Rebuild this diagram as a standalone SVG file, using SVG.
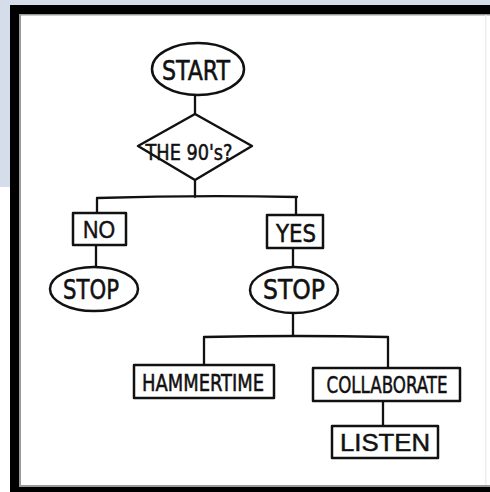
<svg xmlns="http://www.w3.org/2000/svg" width="490" height="492" viewBox="0 0 490 492">
<style>
.shape{fill:#fff;stroke:#111;stroke-width:2.5;stroke-linejoin:round}
.conn{fill:none;stroke:#111;stroke-width:2.3;stroke-linecap:round;stroke-linejoin:round}
.lbl{font-family:"Liberation Sans Narrow","DejaVu Sans Condensed","Liberation Sans",sans-serif;fill:#111;stroke:#111;stroke-width:0.5;text-anchor:middle}
.wide{font-family:"Liberation Sans",Arial,sans-serif}
</style>
<rect x="0" y="0" width="490" height="492" fill="#fff"/>
<rect x="0" y="0" width="490" height="5" fill="#d5dcea"/>
<rect x="0" y="0" width="10" height="187" fill="#d5dcea"/>
<rect x="10" y="5" width="480" height="9" fill="#000"/>
<rect x="10" y="5" width="9" height="487" fill="#000"/>
<rect x="10" y="487" width="480" height="5" fill="#000"/>
<rect x="19" y="14" width="2" height="473" fill="#999"/>
<rect x="19" y="14" width="471" height="1.5" fill="#999"/>
<rect x="19" y="485" width="471" height="2" fill="#999"/>
<rect x="485" y="15" width="1.5" height="470" fill="#eee"/>
<g id="connectors">
<path class="conn" d="M195 95 L195 115"/>
<path class="conn" d="M195 180 L195 197 M97 198 Q196 195 297 197 M97 198 L97 213 M296 197 L296 215"/>
<path class="conn" d="M96 245 L96 267"/>
<path class="conn" d="M293 248 L293 268"/>
<path class="conn" d="M293 313 L293 336 M204 337 Q296 335 388 337 M204 337 L204 365 M388 337 L388 368"/>
<path class="conn" d="M383 401 L383 426"/>
</g>
<g id="start">
<ellipse class="shape" cx="198" cy="69" rx="46" ry="26"/>
<text class="lbl" x="196" y="80" font-size="26" textLength="68" lengthAdjust="spacingAndGlyphs">START</text>
</g>
<g id="the90s">
<polygon class="shape" points="195,114 252,146 195,180 138,146"/>
<text class="lbl" x="189" y="160" font-size="22" textLength="87" lengthAdjust="spacingAndGlyphs">THE 90's?</text>
</g>
<g id="no">
<rect class="shape" x="73" y="213" width="53" height="32"/>
<text class="lbl wide" x="99" y="238" font-size="24" textLength="32" lengthAdjust="spacingAndGlyphs">NO</text>
</g>
<g id="yes">
<rect class="shape" x="267" y="215" width="56" height="33"/>
<text class="lbl" x="296" y="242" font-size="24" textLength="40" lengthAdjust="spacingAndGlyphs">YES</text>
</g>
<g id="stop-no">
<ellipse class="shape" cx="94" cy="289" rx="44" ry="22"/>
<text class="lbl" x="91" y="299" font-size="26" textLength="56" lengthAdjust="spacingAndGlyphs">STOP</text>
</g>
<g id="stop-yes">
<ellipse class="shape" cx="294" cy="290" rx="44" ry="23"/>
<text class="lbl" x="294" y="299" font-size="26" textLength="62" lengthAdjust="spacingAndGlyphs">STOP</text>
</g>
<g id="hammertime">
<rect class="shape" x="134" y="365" width="140" height="33"/>
<text class="lbl" x="203" y="391" font-size="23" textLength="122" lengthAdjust="spacingAndGlyphs">HAMMERTIME</text>
</g>
<g id="collaborate">
<rect class="shape" x="313" y="368" width="147" height="33"/>
<text class="lbl" x="387" y="393" font-size="23" textLength="121" lengthAdjust="spacingAndGlyphs">COLLABORATE</text>
</g>
<g id="listen">
<rect class="shape" x="332" y="426" width="106" height="32"/>
<text class="lbl wide" x="385" y="451" font-size="24" textLength="90" lengthAdjust="spacingAndGlyphs">LISTEN</text>
</g>
</svg>
